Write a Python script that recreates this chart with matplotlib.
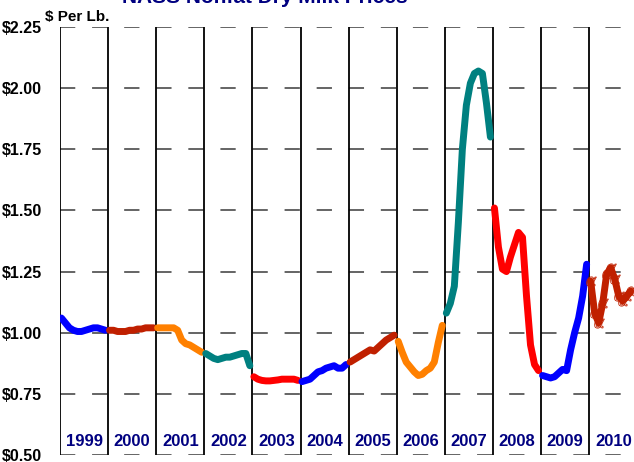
import matplotlib
matplotlib.use("Agg")
import matplotlib.pyplot as plt

plt.rcParams['font.family'] = ['Liberation Sans', 'DejaVu Sans']

years = ["1999", "2000", "2001", "2002", "2003", "2004", "2005",
         "2006", "2007", "2008", "2009", "2010"]

p1999 = [1.06, 1.04, 1.02, 1.01, 1.005, 1.005, 1.01, 1.015, 1.02, 1.02, 1.015, 1.01]
p2000 = [1.01, 1.01, 1.005, 1.005, 1.005, 1.01, 1.01, 1.015, 1.015, 1.02, 1.02, 1.02]
p2001 = [1.02, 1.02, 1.02, 1.02, 1.02, 1.01, 0.97, 0.955, 0.95, 0.94, 0.93, 0.92]
p2002 = [0.915, 0.905, 0.895, 0.89, 0.895, 0.90, 0.90, 0.905, 0.91, 0.915, 0.915, 0.865]
p2003 = [0.82, 0.81, 0.805, 0.803, 0.803, 0.805, 0.807, 0.81, 0.81, 0.81, 0.81, 0.805]
p2004 = [0.80, 0.805, 0.81, 0.825, 0.84, 0.845, 0.855, 0.86, 0.865, 0.855, 0.855, 0.87]
p2005 = [0.88, 0.89, 0.90, 0.91, 0.92, 0.93, 0.925, 0.94, 0.955, 0.97, 0.98, 0.99]
p2006 = [0.965, 0.92, 0.88, 0.86, 0.84, 0.825, 0.83, 0.845, 0.855, 0.88, 0.96, 1.03]
p2007 = [1.08, 1.12, 1.19, 1.45, 1.75, 1.93, 2.02, 2.06, 2.07, 2.06, 1.94, 1.80]
p2008 = [1.51, 1.35, 1.26, 1.25, 1.31, 1.36, 1.41, 1.39, 1.15, 0.95, 0.87, 0.845]
p2009 = [0.825, 0.82, 0.815, 0.82, 0.835, 0.85, 0.845, 0.93, 1.00, 1.06, 1.15, 1.28]
p2010 = [1.21, 1.08, 1.04, 1.12, 1.24, 1.265, 1.22, 1.15, 1.13, 1.15, 1.17]

series = [p1999, p2000, p2001, p2002, p2003, p2004, p2005,
          p2006, p2007, p2008, p2009, p2010]

BLUE, DRED, ORANGE, TEAL, RED = '#0000FF', '#C02000', '#FF8000', '#008080', '#FF0000'
colors = [BLUE, DRED, ORANGE, TEAL, RED, BLUE, DRED, ORANGE, TEAL, RED, BLUE, DRED]

yticks = [0.50, 0.75, 1.00, 1.25, 1.50, 1.75, 2.00, 2.25]

W, H = 634, 462
fig = plt.figure(figsize=(W / 100, H / 100), dpi=100)
ax = fig.add_axes([60 / W, 1 - 455 / H, (W - 60) / W, 428 / H])

ax.set_xlim(0, 11.93)
ax.set_ylim(0.5, 2.25)

for v in yticks:
    ax.axhline(v, color='#3a3a3a', lw=1.1, linestyle=(0, (10, 11)), zorder=1)
for k in range(len(years)):
    ax.axvline(k, color='black', lw=1.3, zorder=2)

for k, (vals, c) in enumerate(zip(series, colors)):
    xs = [k + (m + 0.35) / 12 for m in range(len(vals))]
    if years[k] == "2010":
        ax.plot(xs, vals, color=c, lw=5, solid_capstyle='round', zorder=3,
                marker=r'$\alpha$', markersize=7, markeredgewidth=0.6,
                markerfacecolor='none', markeredgecolor=c)
    else:
        ax.plot(xs, vals, color=c, lw=5, solid_capstyle='round',
                solid_joinstyle='round', zorder=3)

for k, yr in enumerate(years):
    ax.text(k + 0.5, 0.555, yr, ha='center', va='center', color='#000080',
            fontsize=12, fontweight='bold', zorder=4)

ax.set_yticks(yticks)
ax.set_yticklabels([f"${v:.2f}" for v in yticks], fontsize=11.5, fontweight='bold')
ax.tick_params(axis='y', length=0, pad=13)
ax.set_xticks([])
for s in ax.spines.values():
    s.set_visible(False)

fig.text(45 / W, 1 - 17 / H, "$ Per Lb.", ha='left', va='center',
         fontsize=11, fontweight='bold')
fig.text(265 / W, 1 - 3 / H, "NASS Nonfat Dry Milk Prices", ha='center',
         va='baseline', color='#000080', fontsize=15, fontweight='bold')

fig.savefig("out.png", dpi=100)
